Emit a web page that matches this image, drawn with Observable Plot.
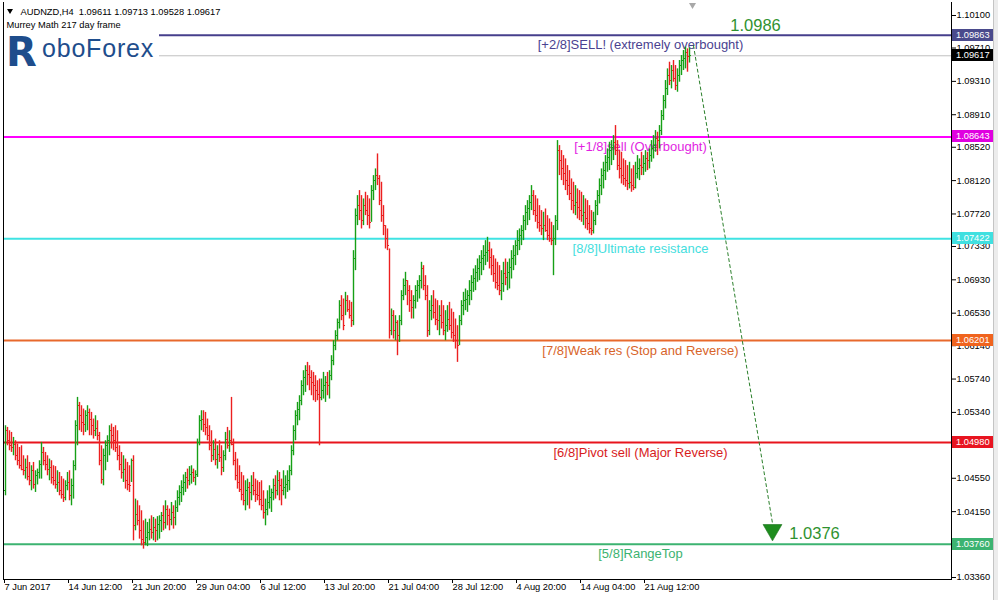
<!DOCTYPE html>
<html><head><meta charset="utf-8">
<script src="https://cdn.jsdelivr.net/npm/d3@7"></script>
<script src="https://cdn.jsdelivr.net/npm/@observablehq/plot@0.6"></script>
<style>
body{margin:0;background:#fff;}
svg text{white-space:pre;}
</style></head><body><div id="chart"></div>
<script>
// ---- Data (AUDNZD H4) ----
const firstOpen = 1.0440;
const high = [
1.0518,1.0516,1.0512,1.0510,1.0504,1.0500,1.0496,1.0492,1.0494,1.0482,
1.0478,1.0482,1.0474,1.0470,1.0474,1.0464,1.0466,1.0476,1.0498,1.0492,
1.0486,1.0482,1.0478,1.0476,1.0470,1.0469,1.0464,1.0462,1.0457,1.0454,
1.0452,1.0462,1.0464,1.0454,1.0476,1.0524,1.0552,1.0546,1.0542,1.0538,
1.0536,1.0542,1.0538,1.0534,1.0526,1.0530,1.0524,1.0510,1.0494,1.0490,
1.0500,1.0506,1.0518,1.0520,1.0516,1.0518,1.0512,1.0494,1.0486,1.0482,
1.0478,1.0474,1.0470,1.0478,1.0482,1.0430,1.0428,1.0422,1.0416,1.0404,
1.0406,1.0402,1.0406,1.0410,1.0408,1.0406,1.0409,1.0410,1.0414,1.0422,
1.0428,1.0422,1.0418,1.0426,1.0422,1.0428,1.0440,1.0446,1.0452,1.0459,
1.0462,1.0466,1.0469,1.0470,1.0466,1.0464,1.0502,1.0530,1.0536,1.0536,
1.0534,1.0526,1.0518,1.0512,1.0500,1.0502,1.0494,1.0500,1.0494,1.0488,
1.0510,1.0516,1.0512,1.0552,1.0502,1.0486,1.0478,1.0470,1.0462,1.0458,
1.0452,1.0454,1.0450,1.0458,1.0462,1.0454,1.0452,1.0450,1.0452,1.0440,
1.0430,1.0440,1.0446,1.0442,1.0454,1.0458,1.0464,1.0462,1.0454,1.0464,
1.0458,1.0464,1.0470,1.0494,1.0518,1.0536,1.0546,1.0554,1.0572,1.0584,
1.0590,1.0594,1.0590,1.0584,1.0582,1.0578,1.0572,1.0574,1.0574,1.0582,
1.0577,1.0582,1.0584,1.0602,1.0620,1.0632,1.0646,1.0668,1.0674,1.0670,
1.0678,1.0674,1.0668,1.0666,1.0728,1.0778,1.0794,1.0800,1.0794,1.0790,
1.0798,1.0794,1.0790,1.0806,1.0818,1.0826,1.0844,1.0818,1.0810,1.0782,
1.0758,1.0754,1.0730,1.0658,1.0656,1.0650,1.0644,1.0650,1.0680,1.0694,
1.0702,1.0692,1.0686,1.0680,1.0674,1.0686,1.0692,1.0698,1.0714,1.0710,
1.0698,1.0686,1.0668,1.0674,1.0680,1.0670,1.0668,1.0662,1.0668,1.0662,
1.0656,1.0662,1.0666,1.0658,1.0654,1.0646,1.0638,1.0650,1.0668,1.0678,
1.0682,1.0680,1.0692,1.0698,1.0706,1.0710,1.0718,1.0722,1.0728,1.0734,
1.0740,1.0744,1.0738,1.0730,1.0722,1.0718,1.0714,1.0710,1.0704,1.0714,
1.0718,1.0714,1.0718,1.0728,1.0734,1.0740,1.0752,1.0754,1.0758,1.0770,
1.0782,1.0788,1.0794,1.0806,1.0800,1.0794,1.0790,1.0782,1.0776,1.0774,
1.0778,1.0770,1.0766,1.0762,1.0758,1.0770,1.0860,1.0854,1.0848,1.0842,
1.0838,1.0830,1.0824,1.0814,1.0810,1.0806,1.0802,1.0800,1.0798,1.0794,
1.0790,1.0788,1.0782,1.0776,1.0774,1.0788,1.0800,1.0814,1.0826,1.0834,
1.0842,1.0850,1.0858,1.0860,1.0866,1.0878,1.0860,1.0848,1.0846,1.0838,
1.0836,1.0830,1.0834,1.0826,1.0830,1.0834,1.0842,1.0838,1.0846,1.0842,
1.0848,1.0846,1.0850,1.0860,1.0866,1.0872,1.0870,1.0878,1.0896,1.0914,
1.0932,1.0946,1.0954,1.0950,1.0956,1.0950,1.0946,1.0956,1.0962,1.0968,
1.0972,1.0970,1.0971];
const low = [
1.0434,1.0494,1.0488,1.0486,1.0482,1.0476,1.0470,1.0466,1.0464,1.0458,
1.0454,1.0452,1.0446,1.0440,1.0442,1.0438,1.0447,1.0454,1.0454,1.0470,
1.0464,1.0458,1.0452,1.0448,1.0446,1.0442,1.0438,1.0434,1.0430,1.0426,
1.0428,1.0440,1.0428,1.0422,1.0430,1.0464,1.0494,1.0512,1.0510,1.0506,
1.0510,1.0512,1.0506,1.0506,1.0502,1.0505,1.0500,1.0470,1.0448,1.0446,
1.0464,1.0474,1.0482,1.0490,1.0488,1.0486,1.0476,1.0464,1.0454,1.0450,
1.0442,1.0440,1.0438,1.0450,1.0380,1.0392,1.0398,1.0382,1.0374,1.0370,
1.0374,1.0373,1.0380,1.0382,1.0380,1.0378,1.0380,1.0382,1.0390,1.0392,
1.0394,1.0398,1.0392,1.0398,1.0394,1.0398,1.0414,1.0422,1.0426,1.0434,
1.0438,1.0442,1.0446,1.0448,1.0450,1.0446,1.0456,1.0494,1.0512,1.0510,
1.0506,1.0500,1.0488,1.0474,1.0476,1.0470,1.0466,1.0474,1.0458,1.0462,
1.0476,1.0490,1.0486,1.0494,1.0470,1.0452,1.0442,1.0438,1.0428,1.0422,
1.0416,1.0422,1.0418,1.0428,1.0434,1.0426,1.0428,1.0422,1.0416,1.0406,
1.0398,1.0410,1.0418,1.0414,1.0428,1.0430,1.0434,1.0428,1.0422,1.0434,
1.0430,1.0438,1.0440,1.0458,1.0482,1.0500,1.0518,1.0524,1.0542,1.0554,
1.0558,1.0566,1.0560,1.0554,1.0548,1.0546,1.0548,1.0494,1.0548,1.0550,
1.0546,1.0554,1.0550,1.0572,1.0590,1.0608,1.0620,1.0634,1.0644,1.0632,
1.0650,1.0654,1.0646,1.0636,1.0638,1.0704,1.0758,1.0764,1.0754,1.0758,
1.0770,1.0758,1.0754,1.0762,1.0788,1.0800,1.0806,1.0782,1.0762,1.0746,
1.0730,1.0728,1.0622,1.0626,1.0622,1.0620,1.0602,1.0618,1.0638,1.0668,
1.0674,1.0662,1.0654,1.0646,1.0646,1.0658,1.0666,1.0670,1.0682,1.0680,
1.0668,1.0624,1.0626,1.0644,1.0646,1.0638,1.0632,1.0626,1.0634,1.0626,
1.0620,1.0630,1.0632,1.0622,1.0618,1.0610,1.0594,1.0614,1.0638,1.0650,
1.0656,1.0654,1.0662,1.0668,1.0678,1.0680,1.0690,1.0692,1.0698,1.0704,
1.0710,1.0714,1.0706,1.0698,1.0690,1.0682,1.0680,1.0674,1.0668,1.0678,
1.0686,1.0680,1.0682,1.0694,1.0704,1.0710,1.0722,1.0728,1.0734,1.0740,
1.0752,1.0758,1.0764,1.0776,1.0770,1.0762,1.0754,1.0750,1.0746,1.0740,
1.0750,1.0740,1.0738,1.0734,1.0698,1.0734,1.0752,1.0818,1.0812,1.0806,
1.0800,1.0794,1.0788,1.0776,1.0772,1.0770,1.0766,1.0764,1.0762,1.0758,
1.0754,1.0752,1.0748,1.0746,1.0748,1.0758,1.0770,1.0784,1.0794,1.0802,
1.0812,1.0822,1.0824,1.0830,1.0836,1.0842,1.0824,1.0814,1.0808,1.0806,
1.0804,1.0800,1.0802,1.0798,1.0800,1.0802,1.0814,1.0812,1.0818,1.0818,
1.0822,1.0824,1.0826,1.0834,1.0838,1.0846,1.0842,1.0850,1.0866,1.0884,
1.0898,1.0914,1.0926,1.0922,1.0930,1.0920,1.0918,1.0930,1.0938,1.0944,
1.0946,1.0942,1.0953];
const close = [
1.0512,1.0500,1.0494,1.0492,1.0496,1.0482,1.0476,1.0470,1.0466,1.0464,
1.0468,1.0457,1.0452,1.0464,1.0447,1.0458,1.0462,1.0472,1.0486,1.0476,
1.0472,1.0466,1.0468,1.0456,1.0452,1.0448,1.0450,1.0440,1.0436,1.0432,
1.0446,1.0450,1.0434,1.0446,1.0470,1.0518,1.0542,1.0530,1.0522,1.0520,
1.0530,1.0534,1.0526,1.0518,1.0512,1.0515,1.0506,1.0476,1.0454,1.0482,
1.0494,1.0500,1.0512,1.0506,1.0500,1.0492,1.0482,1.0472,1.0462,1.0466,
1.0452,1.0448,1.0446,1.0476,1.0398,1.0412,1.0404,1.0392,1.0382,1.0378,
1.0384,1.0390,1.0394,1.0390,1.0396,1.0392,1.0400,1.0404,1.0410,1.0402,
1.0418,1.0410,1.0406,1.0414,1.0408,1.0420,1.0432,1.0438,1.0444,1.0450,
1.0456,1.0452,1.0460,1.0462,1.0456,1.0460,1.0498,1.0524,1.0526,1.0520,
1.0516,1.0506,1.0494,1.0482,1.0490,1.0478,1.0484,1.0480,1.0468,1.0482,
1.0502,1.0494,1.0500,1.0496,1.0476,1.0458,1.0450,1.0442,1.0436,1.0428,
1.0440,1.0444,1.0438,1.0446,1.0440,1.0436,1.0434,1.0430,1.0422,1.0414,
1.0418,1.0426,1.0432,1.0438,1.0446,1.0440,1.0452,1.0446,1.0440,1.0444,
1.0448,1.0452,1.0464,1.0488,1.0512,1.0530,1.0538,1.0548,1.0566,1.0576,
1.0584,1.0580,1.0576,1.0570,1.0566,1.0560,1.0556,1.0552,1.0560,1.0566,
1.0570,1.0566,1.0578,1.0596,1.0614,1.0626,1.0642,1.0662,1.0650,1.0638,
1.0668,1.0658,1.0650,1.0644,1.0718,1.0770,1.0782,1.0776,1.0764,1.0782,
1.0776,1.0770,1.0762,1.0800,1.0812,1.0818,1.0814,1.0788,1.0770,1.0758,
1.0742,1.0734,1.0632,1.0650,1.0632,1.0642,1.0626,1.0644,1.0674,1.0686,
1.0692,1.0680,1.0668,1.0660,1.0668,1.0680,1.0686,1.0692,1.0706,1.0686,
1.0674,1.0632,1.0656,1.0662,1.0654,1.0646,1.0644,1.0650,1.0642,1.0632,
1.0638,1.0646,1.0638,1.0630,1.0626,1.0620,1.0614,1.0644,1.0662,1.0668,
1.0670,1.0674,1.0680,1.0690,1.0694,1.0702,1.0706,1.0714,1.0718,1.0722,
1.0726,1.0728,1.0720,1.0710,1.0700,1.0690,1.0686,1.0680,1.0688,1.0700,
1.0696,1.0702,1.0708,1.0718,1.0722,1.0734,1.0740,1.0746,1.0752,1.0764,
1.0774,1.0778,1.0786,1.0794,1.0776,1.0770,1.0762,1.0758,1.0754,1.0758,
1.0752,1.0746,1.0742,1.0740,1.0742,1.0764,1.0848,1.0836,1.0826,1.0820,
1.0812,1.0806,1.0796,1.0788,1.0782,1.0786,1.0780,1.0776,1.0770,1.0774,
1.0766,1.0760,1.0754,1.0752,1.0764,1.0782,1.0794,1.0806,1.0818,1.0824,
1.0834,1.0840,1.0848,1.0852,1.0858,1.0848,1.0830,1.0826,1.0818,1.0814,
1.0812,1.0808,1.0810,1.0806,1.0804,1.0820,1.0826,1.0830,1.0828,1.0832,
1.0838,1.0836,1.0842,1.0850,1.0854,1.0862,1.0860,1.0872,1.0890,1.0908,
1.0922,1.0938,1.0932,1.0944,1.0934,1.0926,1.0938,1.0950,1.0956,1.0958,
1.0966,1.0961,1.0962];

const dateLabelBars = [0, 32, 64, 96, 128, 160, 192, 224, 256, 288, 320];
const dateLabels = ["7 Jun 2017","14 Jun 12:00","21 Jun 20:00","29 Jun 04:00","6 Jul 12:00",
  "13 Jul 20:00","21 Jul 04:00","28 Jul 12:00","4 Aug 20:00","14 Aug 04:00","21 Aug 12:00"];
const priceTicks = [1.10100,1.09710,1.09310,1.08910,1.08520,1.08120,1.07720,1.07330,1.06930,
  1.06530,1.06140,1.05740,1.05340,1.04950,1.04550,1.04150,1.03760,1.03360];

const levelPrices = [1.09863, 1.08643, 1.07422, 1.06201, 1.04980, 1.03760];
const levelNames = ["[+2/8]SELL! (extremely overbought)", "[+1/8]sell (Overbought)",
  "[8/8]Ultimate resistance", "[7/8]Weak res (Stop and Reverse)",
  "[6/8]Pivot sell (Major Reverse)", "[5/8]RangeTop"];
const lastPrice = 1.09617;
const headerText = "AUDNZD,H4  1.09611 1.09713 1.09528 1.09617";
const subHeader = "Murrey Math 217 day frame";
const forecastBars = [344, 383.5];
const forecastPrices = [1.0974, 1.0401];
const targetPrices = [1.0986, 1.0376];
const targetLabels = ["1.0986", "1.0376"];

// ---- Styles ----
const lineColors = ["#463f8c", "#ff00ff", "#3fe3e3", "#e8692c", "#e8141c", "#3cb371"];
const textColors = ["#4a4290", "#e21ee2", "#45dede", "#d8642a", "#d81c1c", "#3cb371"];
const boxColors  = ["#4a4a8c", "#e000e0", "#40e0e0", "#f0641e", "#e81420", "#3cb371"];
const UP = "#16a016", DOWN = "#ec2020", FC = "#2f922f";
const FONT = "Liberation Sans, Arial, sans-serif";

const bars = high.map((h, i) => {
  const open = i === 0 ? firstOpen : close[i - 1];
  return {i, high: h, low: low[i], open, close: close[i], up: close[i] >= open};
});
const upBars = bars.filter(d => d.up), downBars = bars.filter(d => !d.up);
const levels = levelPrices.map((p, k) => ({price: p, name: levelNames[k], line: lineColors[k], text: textColors[k]}));
const labelMap = new Map(dateLabelBars.map((b, k) => [b, dateLabels[k]]));
const downTri = {draw(ctx, size) {
  const h = Math.sqrt(size / (3 * Math.sqrt(3)));
  ctx.moveTo(0, 2 * h); ctx.lineTo(-Math.sqrt(3) * h, -h); ctx.lineTo(Math.sqrt(3) * h, -h); ctx.closePath();
}};
// OHLC bar: high-low stem, open tick on the left, close tick on the right
const barMarks = (data, color) => [
  Plot.ruleX(data, {x: "i", y1: "low", y2: "high", stroke: color, strokeWidth: 1.4}),
  Plot.ruleY(data, {y: "open", x1: d => d.i - 0.75, x2: d => d.i - 0.25, stroke: color, strokeWidth: 1, shapeRendering: "crispEdges"}),
  Plot.ruleY(data, {y: "close", x1: d => d.i + 0.25, x2: d => d.i + 0.75, stroke: color, strokeWidth: 1, shapeRendering: "crispEdges"})
];

const plot = Plot.plot({
  width: 998, height: 600,
  marginLeft: 3, marginRight: 47, marginTop: 2, marginBottom: 21,
  style: {fontFamily: FONT, background: "#fff", overflow: "visible"},
  x: {domain: [-1, 473]},
  y: {domain: [1.03336, 1.10256]},
  color: {type: "identity"},
  marks: [
    Plot.ruleY(levels, {y: "price", stroke: "line", strokeWidth: 2}),
    Plot.ruleY([lastPrice], {stroke: "#c0c0c0", strokeWidth: 1}),
    Plot.text(levels, {x: () => 317.5, y: "price", text: "name", fill: "text", dy: 10, fontSize: 13, lineAnchor: "middle"}),
    Plot.line(forecastBars.map((b, k) => [b, forecastPrices[k]]), {stroke: "#2a7f2a", strokeWidth: 1, strokeDasharray: "3,3"}),
    Plot.dot([[383.5, 1.0393]], {symbol: downTri, r: 7, fill: "#1e8c1e", stroke: "#17701a", strokeWidth: 0.6}),
    Plot.text(targetPrices, {x: [375, 404.5], y: d => d, text: targetLabels, fill: FC, fontSize: 16.5, dy: -10, lineAnchor: "middle"}),
    ...barMarks(upBars, UP),
    ...barMarks(downBars, DOWN),
    Plot.frame({anchor: "left", stroke: "#000"}),
    Plot.frame({anchor: "right", stroke: "#000"}),
    Plot.frame({anchor: "bottom", stroke: "#000"}),
    Plot.axisY(priceTicks, {anchor: "right", tickSize: 4, tickPadding: 1, label: null, fontSize: 9.3,
      tickFormat: d => d.toFixed(5), fill: "#000"}),
    Plot.axisX(dateLabelBars, {anchor: "bottom", tickSize: 4, tickPadding: 0, label: null, fontSize: 9.3,
      tickFormat: d => labelMap.get(d), textAnchor: "start", dx: -1, fill: "#000"}),
    Plot.text([headerText], {frameAnchor: "top-left", text: d => d, dx: 17, dy: 10, textAnchor: "start", lineAnchor: "middle", fontSize: 9.3, fill: "#000"}),
    Plot.text([subHeader], {frameAnchor: "top-left", text: d => d, dx: 3, dy: 23, textAnchor: "start", lineAnchor: "middle", fontSize: 9.3, fill: "#000"}),
    Plot.dot([0], {x: () => 343.5, frameAnchor: "top", symbol: downTri, r: 2.6, dy: 2.5, fill: "#a8a8a8"})
  ]
});
document.getElementById("chart").appendChild(plot);

// ---- Decorations: price boxes on the right axis, logo, header marker, scrollbar ----
const svg = d3.select(plot);
const ys = plot.scale("y");
const boxData = levels.map((l, k) => ({p: l.price, fill: boxColors[k]})).concat([{p: lastPrice, fill: "#000"}]);
const gb = svg.append("g").attr("font-family", FONT).attr("font-size", 9.3).attr("text-anchor", "start");
for (const b of boxData) {
  const y = Math.round(ys.apply(b.p));
  gb.append("rect").attr("x", 952).attr("y", y - 6).attr("width", 42).attr("height", 12).attr("fill", b.fill);
  gb.append("text").attr("x", 956).attr("y", y).attr("dy", "0.34em").attr("fill", "#fff").text(b.p.toFixed(5));
}
const logo = svg.append("g").attr("text-anchor", "start");
logo.append("rect").attr("x", 4).attr("y", 30).attr("width", 155).attr("height", 40).attr("fill", "#fff");
logo.append("text").attr("x", 6).attr("y", 66).attr("font-family", "DejaVu Sans, sans-serif")
  .attr("font-weight", "bold").attr("font-size", 40).attr("fill", "#1e4d8c").text("R");
logo.append("text").attr("x", 42).attr("y", 57).attr("font-family", FONT)
  .attr("font-size", 25).attr("letter-spacing", 0.8).attr("fill", "#1e4d8c").text("oboForex");
svg.append("path").attr("d", "M7,9L13,9L10,14Z").attr("fill", "#000");
svg.append("rect").attr("x", 993).attr("y", 0).attr("width", 5).attr("height", 600).attr("fill", "#ececec");
svg.append("line").attr("x1", 993.5).attr("x2", 993.5).attr("y1", 0).attr("y2", 600).attr("stroke", "#c4c4c4");
</script></body></html>
